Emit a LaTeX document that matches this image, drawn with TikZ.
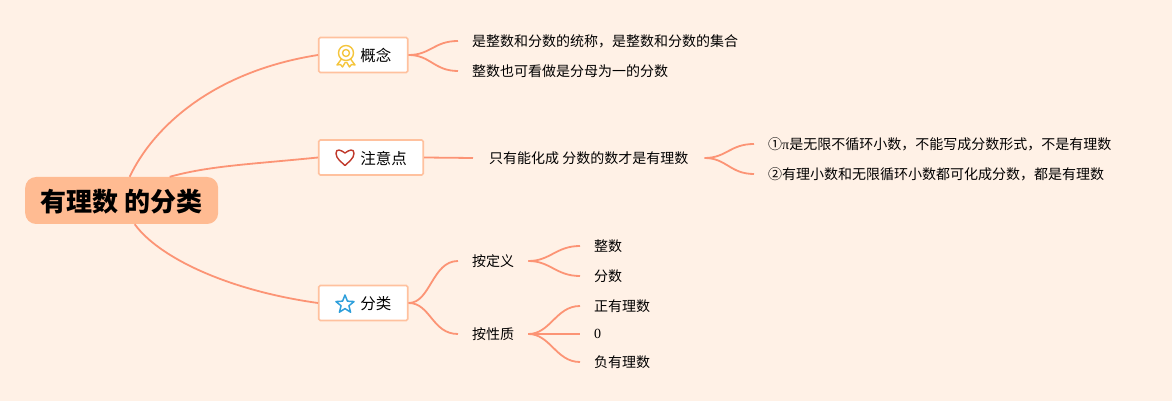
\documentclass[tikz,border=0pt]{standalone}
\usepackage{fontspec}
\setmainfont{Noto Sans CJK SC}
\newfontfamily\latinfont{Liberation Serif}
\usetikzlibrary{calc}
\usetikzlibrary{positioning}
\usetikzlibrary{shapes.geometric}
\definecolor{bgcolor}{HTML}{FFF1E6}
\definecolor{linecolor}{HTML}{FC9475}
\definecolor{boxcolor}{HTML}{FFC19E}
\definecolor{rootcolor}{HTML}{FFBB92}
\definecolor{medalcolor}{HTML}{F5C53C}
\definecolor{heartcolor}{HTML}{C0392B}
\definecolor{starcolor}{HTML}{2E9FDB}
\tikzset{root/.style={fill=rootcolor, rounded corners=11pt, minimum width=193pt, minimum height=47pt, inner sep=0pt, text height=24pt, text depth=1.2pt, font=\fontsize{26}{26}\selectfont\bfseries, anchor=west}}
\tikzset{block/.style={draw=boxcolor, line width=1.6pt, fill=white, rounded corners=1.5pt, minimum height=35pt, inner xsep=16.5pt, inner ysep=0pt, text height=14.5pt, text depth=0.7pt, font=\fontsize{15.5}{15.5}\selectfont, anchor=west}}
\tikzset{leaf/.style={inner xsep=14pt, inner ysep=2pt, font=\fontsize{14}{14}\selectfont, anchor=west}}
\tikzset{connect/.style={draw=linecolor, line width=1.8pt}}
\tikzset{icon/.style={line width=1.4pt, fill=none, line join=round}}

\begin{document}
\begin{tikzpicture}

\node[fill=bgcolor, minimum width=1172pt, minimum height=401pt, inner sep=0pt, outer sep=0pt] (page) at (0,0) {};

%main blocks
\node[root] (main) at ([xshift=25pt,yshift=-200.5pt]page.north west) {有理数 的分类};
\node[block] (concept) at ([xshift=318pt,yshift=-55pt]page.north west) {\hspace*{25pt}概念};
\node[block] (note) at ([xshift=318pt,yshift=-157.5pt]page.north west) {\hspace*{25pt}注意点};
\node[block] (kinds) at ([xshift=318pt,yshift=-303pt]page.north west) {\hspace*{25pt}分类};

%concept
\node[leaf] (whole) at ([xshift=458pt,yshift=-41pt]page.north west) {是整数和分数的统称，是整数和分数的集合};
\node[leaf] (ratio) at ([xshift=458pt,yshift=-71pt]page.north west) {整数也可看做是分母为一的分数};

%note
\node[leaf,inner xsep=16pt] (only) at ([xshift=473pt,yshift=-158pt]page.north west) {只有能化成 分数的数才是有理数};
\node[leaf] (pi) at ([xshift=754pt,yshift=-144pt]page.north west) {①{\latinfont π}是无限不循环小数，不能写成分数形式，不是有理数};
\node[leaf] (decimal) at ([xshift=754pt,yshift=-174pt]page.north west) {②有理小数和无限循环小数都可化成分数，都是有理数};

%kinds
\node[leaf] (define) at ([xshift=458pt,yshift=-261pt]page.north west) {按定义};
\node[leaf] (nature) at ([xshift=458pt,yshift=-334pt]page.north west) {按性质};
\node[leaf] (integer) at ([xshift=580pt,yshift=-246pt]page.north west) {整数};
\node[leaf] (fraction) at ([xshift=580pt,yshift=-276pt]page.north west) {分数};
\node[leaf] (positive) at ([xshift=580pt,yshift=-306pt]page.north west) {正有理数};
\node[leaf] (zero) at ([xshift=580pt,yshift=-334pt]page.north west) {\latinfont 0};
\node[leaf] (negative) at ([xshift=580pt,yshift=-362pt]page.north west) {负有理数};

%main
\path[connect] ([xshift=8pt]main.north) .. controls +(22pt,47pt) and ([xshift=-108pt,yshift=-17pt]concept.west) .. (concept.west);
\path[connect] ([xshift=48pt]main.north) .. controls +(40pt,11pt) and ([xshift=-70pt,yshift=-7pt]note.west) .. (note.west);
\path[connect] ([xshift=13pt]main.south) .. controls +(23pt,-32pt) and ([xshift=-93pt,yshift=13pt]kinds.west) .. (kinds.west);

%branches
\path[connect] (concept.east) .. controls +(22pt,0pt) and ([xshift=-24pt]whole.west) .. (whole.west);
\path[connect] (concept.east) .. controls +(22pt,0pt) and ([xshift=-24pt]ratio.west) .. (ratio.west);
\path[connect] (note.east) -- (only.west);
\path[connect] (only.east) .. controls +(22pt,0pt) and ([xshift=-24pt]pi.west) .. (pi.west);
\path[connect] (only.east) .. controls +(22pt,0pt) and ([xshift=-24pt]decimal.west) .. (decimal.west);
\path[connect] (kinds.east) .. controls +(22pt,0pt) and ([xshift=-26pt]define.west) .. (define.west);
\path[connect] (kinds.east) .. controls +(22pt,0pt) and ([xshift=-26pt]nature.west) .. (nature.west);
\path[connect] (define.east) .. controls +(22pt,0pt) and ([xshift=-24pt]integer.west) .. (integer.west);
\path[connect] (define.east) .. controls +(22pt,0pt) and ([xshift=-24pt]fraction.west) .. (fraction.west);
\path[connect] (nature.east) .. controls +(22pt,0pt) and ([xshift=-24pt]positive.west) .. (positive.west);
\path[connect] (nature.east) -- (zero.west);
\path[connect] (nature.east) .. controls +(22pt,0pt) and ([xshift=-24pt]negative.west) .. (negative.west);

%icons
\coordinate (medal) at ([xshift=28pt,yshift=2pt]concept.west);
\draw[icon,draw=medalcolor] (medal) circle (7.5pt);
\draw[icon,draw=medalcolor] (medal) circle (3.5pt);
\draw[icon,draw=medalcolor] ($(medal)+(-4.5pt,-6pt)$) -- ++(-4.5pt,-6pt) -- ++(3.5pt,0.5pt) -- ++(2pt,-2.5pt) -- ++(3pt,5pt);
\draw[icon,draw=medalcolor] ($(medal)+(4.5pt,-6pt)$) -- ++(4.5pt,-6pt) -- ++(-3.5pt,0.5pt) -- ++(-2pt,-2.5pt) -- ++(-3pt,5pt);
\coordinate (heart) at ([xshift=27pt,yshift=-8pt]note.west);
\draw[icon,draw=heartcolor] (heart) .. controls +(-3pt,3pt) and +(0pt,-5pt) .. ($(heart)+(-9pt,12pt)$) .. controls +(0pt,5.5pt) and +(-4pt,3pt) .. ($(heart)+(0pt,12.5pt)$) .. controls +(4pt,3pt) and +(0pt,5.5pt) .. ($(heart)+(9pt,12pt)$) .. controls +(0pt,-5pt) and +(3pt,3pt) .. (heart);
\node[star, star points=5, star point ratio=2.3, draw=starcolor, line width=1.5pt, line join=round, fill=none, minimum size=19pt, inner sep=0pt] (bluestar) at ([xshift=27pt,yshift=-1.5pt]kinds.west) {};

\end{tikzpicture}
\end{document}
